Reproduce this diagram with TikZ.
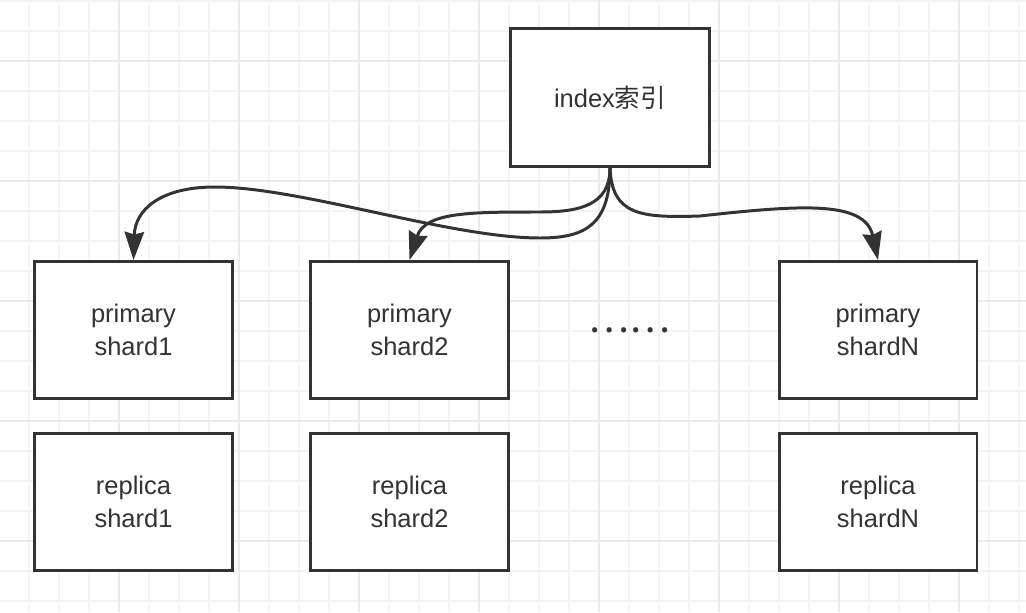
\documentclass[tikz,border=0pt]{standalone}
\usepackage{fontspec}
\setmainfont{Liberation Sans}
\newfontfamily\cjk{Noto Sans CJK SC}
\usetikzlibrary{positioning,arrows.meta}
\definecolor{ink}{HTML}{333333}
\definecolor{gridminor}{HTML}{F4F4F4}
\definecolor{gridmajor}{HTML}{EAEAEA}

\begin{document}
\begin{tikzpicture}[
  x=0.02cm, y=-0.02cm,
  every node/.style={font=\fontsize{14.5}{18.7}\selectfont, text=ink},
  shardbox/.style={
    rectangle, draw=ink, line width=1.7pt, fill=white,
    minimum width=3.96cm, minimum height=2.74cm,
    align=center, inner sep=2pt
  },
  link/.style={
    draw=ink, line width=1.7pt,
    -{Stealth[length=16pt,width=11pt,inset=1.5pt]}
  }
]

% Canvas and grid
\useasboundingbox (0,0) rectangle (1026,612);
\fill[white] (0,0) rectangle (1026,612);
\foreach \gx in {-1,29,...,1019}
  \draw[gridminor, line width=0.6pt] (\gx,0) -- (\gx,612);
\foreach \gy in {1,31,...,611}
  \draw[gridminor, line width=0.6pt] (0,\gy) -- (1026,\gy);
\foreach \gx in {119,239,...,959}
  \draw[gridmajor, line width=0.8pt] (\gx,0) -- (\gx,612);
\foreach \gy in {61,181,...,541}
  \draw[gridmajor, line width=0.8pt] (0,\gy) -- (1026,\gy);

% Index
\node[shardbox, minimum width=3.98cm, minimum height=2.76cm] (idx) at (610,97.5) {index{\cjk 索引}};

% Primary shards
\node[shardbox] (pri1) at (133.5,330) {primary\\shard1};
\node[shardbox] (pri2) at (409.5,330) {primary\\shard2};
\node[shardbox] (priN) at (878,330) {primary\\shardN};

% Replica shards
\node[shardbox] (rep1) at (133.5,502) {replica\\shard1};
\node[shardbox] (rep2) at (409.5,502) {replica\\shard2};
\node[shardbox] (repN) at (878,502) {replica\\shardN};

% Gap marker
\node[font=\cjk\fontsize{22}{22}\selectfont] (gap) at (629.5,330) {……};

% Routing to primaries
\draw[link] (idx.south) .. controls (610,225) and (585,238) .. (540,238)
  .. controls (450,238) and (300,187) .. (215,187)
  .. controls (160,187) and (135,210) .. (pri1.north);
\draw[link] (idx.south) .. controls (610,205) and (580,212) .. (540,212)
  .. controls (470,212) and (425,212) .. (pri2.north);
\draw[link] (idx.south) .. controls (612,215) and (640,218) .. (700,216)
  .. controls (800,205) and (865,200) .. (priN.north);

\end{tikzpicture}
\end{document}
